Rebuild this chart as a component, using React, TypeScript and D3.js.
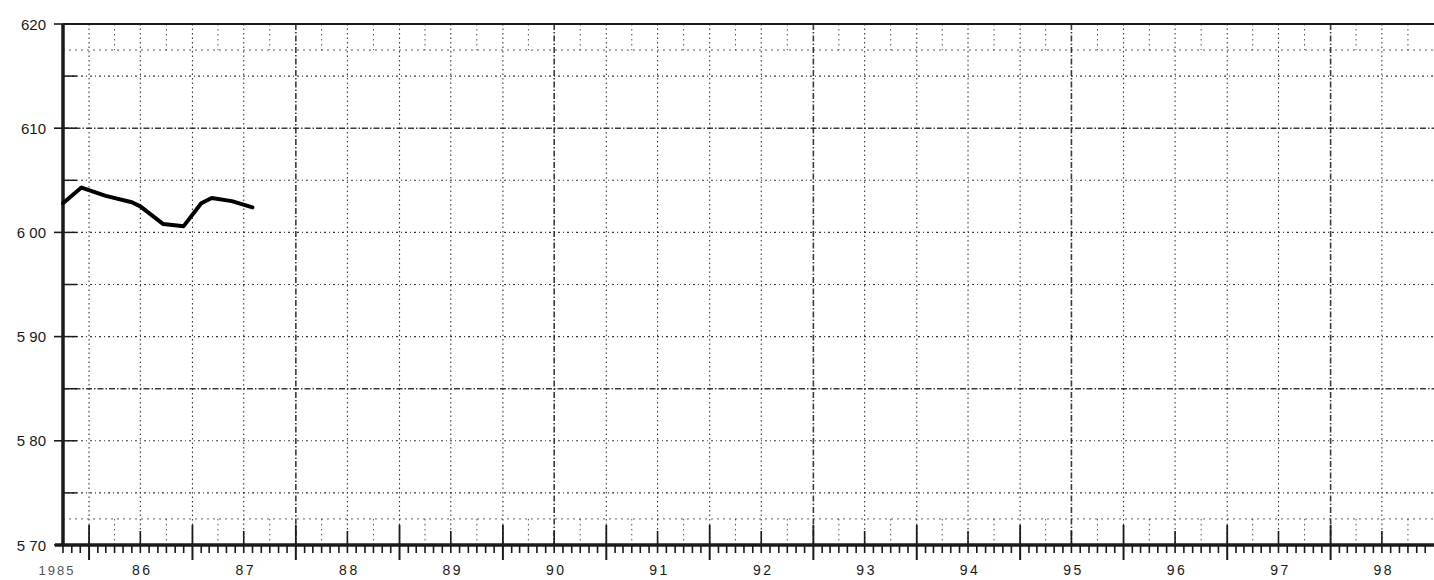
import React, { useEffect, useRef } from "react";
import * as d3 from "d3";

// ---- data ----
const obsDates = ["1985-10-01", "1985-12-05", "1986-03-01", "1986-06-01", "1986-07-01", "1986-09-20", "1986-12-01", "1987-02-01", "1987-03-10", "1987-05-20", "1987-08-01"];
const obsValues = [602.8, 604.3, 603.5, 602.9, 602.5, 600.8, 600.6, 602.8, 603.3, 603.0, 602.4];
const yTickValues = [620, 610, 600, 590, 580, 570];
const yTickLabels = ["620", "610", "6 00", "5 90", "5 80", "5 70"];
const yearLabels = ["86", "87", "88", "89", "90", "91", "92", "93", "94", "95", "96", "97", "98"];
const firstYearLabel = "1985";

const W = 1434, H = 580;
const M = { left: 63, right: 0, top: 24, bottom: 35 };

export default function App() {
  const ref = useRef<SVGSVGElement>(null);
  useEffect(() => {
    document.body.style.margin = "0";
    const svg = d3.select(ref.current);
    svg.selectAll("*").remove();
    const x = d3.scaleTime().domain([new Date(1985, 9, 1), new Date(1999, 0, 1)]).range([M.left, W - M.right]);
    const y = d3.scaleLinear().domain([570, 620]).range([H - M.bottom, M.top]);
    const x0 = M.left, x1 = W - M.right, y0 = y(570), y1 = y(620);
    const ink = "#1a1a1a";
    const g = svg.append("g");

    // fine band grid lines (top & bottom strips)
    const quarters = d3.timeMonth.range(new Date(1985, 9, 1), new Date(1999, 0, 1), 3).filter(d => d.getMonth() === 3 || d.getMonth() === 9);
    [[y(620), y(617.5)], [y(572.5), y(570)]].forEach(([a, b]) => {
      g.selectAll(null).data(quarters).enter().append("line")
        .attr("x1", d => x(d)).attr("x2", d => x(d)).attr("y1", a).attr("y2", b)
        .attr("stroke", ink).attr("stroke-width", 1).attr("stroke-dasharray", "1.5 3.5").attr("opacity", 0.75);
    });
    [617.5, 572.5].forEach(v => {
      g.append("line").attr("x1", x0).attr("x2", x1).attr("y1", y(v)).attr("y2", y(v))
        .attr("stroke", ink).attr("stroke-width", 1).attr("stroke-dasharray", "2 4").attr("opacity", 0.7);
    });

    // half-year vertical grid
    const halves = d3.timeMonth.range(new Date(1986, 0, 1), new Date(1999, 0, 1), 6);
    g.selectAll(null).data(halves).enter().append("line")
      .attr("x1", d => x(d)).attr("x2", d => x(d)).attr("y1", y1).attr("y2", y0)
      .attr("stroke", ink)
      .attr("stroke-width", (d, i) => (i % 5 === 4 ? 1.6 : 1.1))
      .attr("stroke-dasharray", (d, i) => (i % 5 === 4 ? "6 2 1.5 2" : "1.5 3"))
      .attr("opacity", 0.85);

    // horizontal grid every 5 units
    const hVals = d3.range(575, 620, 5);
    g.selectAll(null).data(hVals).enter().append("line")
      .attr("x1", x0).attr("x2", x1).attr("y1", d => y(d)).attr("y2", d => y(d))
      .attr("stroke", ink)
      .attr("stroke-width", d => (d === 610 || d === 585 ? 1.5 : 1.1))
      .attr("stroke-dasharray", d => (d === 610 || d === 585 ? "6 2 1.5 2" : "2 3 1 3"))
      .attr("opacity", 0.85);
    // short solid stubs at left
    g.selectAll(null).data(hVals).enter().append("line")
      .attr("x1", x0).attr("x2", x0 + 14).attr("y1", d => y(d)).attr("y2", d => y(d))
      .attr("stroke", ink).attr("stroke-width", 1.5);

    // small upward ticks at mid-years along bottom
    const mids = d3.timeMonth.range(new Date(1986, 6, 1), new Date(1999, 0, 1), 12);
    g.selectAll(null).data(mids).enter().append("line")
      .attr("x1", d => x(d)).attr("x2", d => x(d)).attr("y1", y0).attr("y2", y0 - 14)
      .attr("stroke", ink).attr("stroke-width", 1.6);

    // monthly ticks below axis
    const months = d3.timeMonth.range(new Date(1985, 9, 1), new Date(1999, 0, 1));
    g.selectAll(null).data(months).enter().append("line")
      .attr("x1", d => x(d)).attr("x2", d => x(d)).attr("y1", y0)
      .attr("y2", d => (d.getMonth() === 0 ? y0 + 15 : y0 + 8))
      .attr("stroke", ink).attr("stroke-width", d => (d.getMonth() === 0 ? 2 : 1.6));
    // year boundary ticks extend upward
    g.selectAll(null).data(months.filter(d => d.getMonth() === 0)).enter().append("line")
      .attr("x1", d => x(d)).attr("x2", d => x(d)).attr("y1", y0).attr("y2", y0 - 20)
      .attr("stroke", ink).attr("stroke-width", 1.8);

    // frame
    g.append("line").attr("x1", x0).attr("x2", x1).attr("y1", y1).attr("y2", y1).attr("stroke", ink).attr("stroke-width", 2.2);
    g.append("line").attr("x1", x0 - 8).attr("x2", x1).attr("y1", y0).attr("y2", y0).attr("stroke", ink).attr("stroke-width", 3.5);
    g.append("line").attr("x1", x0).attr("x2", x0).attr("y1", y1).attr("y2", y0).attr("stroke", ink).attr("stroke-width", 3.5);

    // y ticks & labels
    g.selectAll(null).data(yTickValues).enter().append("line")
      .attr("x1", x0 - 9).attr("x2", x0).attr("y1", d => y(d)).attr("y2", d => y(d))
      .attr("stroke", ink).attr("stroke-width", 1.6);
    g.selectAll(null).data(yTickValues).enter().append("text")
      .attr("x", x0 - 17).attr("y", d => y(d) + 5.5)
      .attr("text-anchor", "end").attr("font-family", "Liberation Sans, Arial, sans-serif")
      .attr("font-size", 15).attr("fill", ink)
      .text((d, i) => yTickLabels[i]);

    // x labels
    const labelY = y0 + 30;
    g.selectAll(null).data(yearLabels).enter().append("text")
      .attr("x", (d, i) => x(new Date(1986 + i, 6, 1)) + 2)
      .attr("y", labelY).attr("text-anchor", "middle")
      .attr("font-family", "Liberation Sans, Arial, sans-serif").attr("font-size", 14).attr("fill", ink)
      .attr("letter-spacing", 2.5)
      .text(d => d);
    g.append("text").attr("x", x(new Date(1985, 9, 1)) - 6).attr("y", labelY)
      .attr("text-anchor", "middle").attr("font-family", "Liberation Sans, Arial, sans-serif")
      .attr("font-size", 13).attr("fill", "#555").attr("letter-spacing", 2).text(firstYearLabel);

    // data line
    const pts = obsDates.map((d, i) => ({ t: d3.isoParse(d) as Date, v: obsValues[i] }));
    const line = d3.line<{ t: Date; v: number }>().x(d => x(d.t)).y(d => y(d.v)).curve(d3.curveLinear);
    g.append("path").datum(pts).attr("d", line).attr("fill", "none")
      .attr("stroke", "#000").attr("stroke-width", 4).attr("stroke-linejoin", "round").attr("stroke-linecap", "round");
  }, []);
  return (
    <div style={{ position: "absolute", left: 0, top: 0, background: "#fff" }}>
      <svg ref={ref} width={W} height={H} style={{ display: "block" }} />
    </div>
  );
}
